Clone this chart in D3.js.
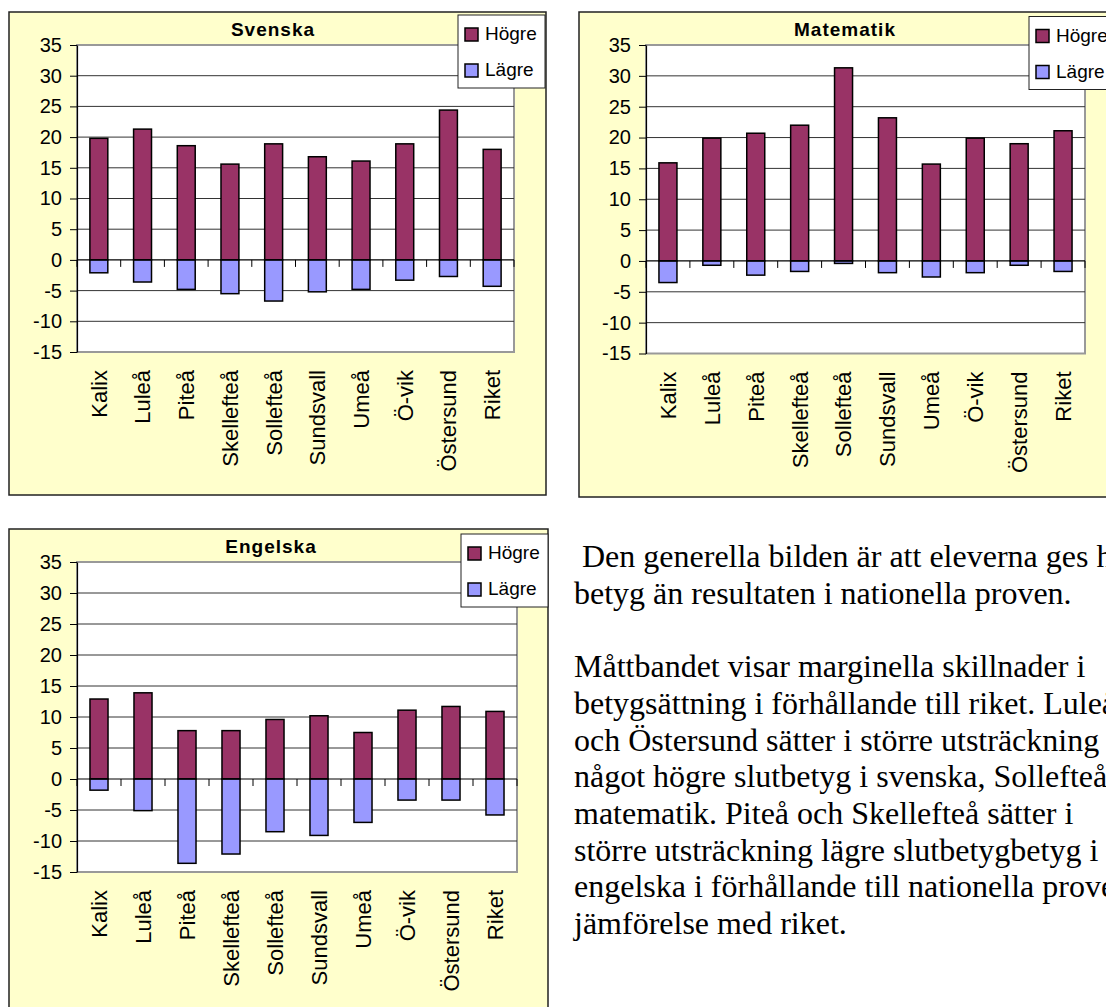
<!DOCTYPE html>
<html>
<head>
<meta charset="utf-8">
<script src="https://cdn.jsdelivr.net/npm/d3@7"></script>
<style>
  body { margin: 0; background: #fff; }
  svg { display: block; }
</style>
</head>
<body>
<div id="page"></div>
<script>
// Data
const categories = ["Kalix", "Luleå", "Piteå", "Skellefteå", "Sollefteå", "Sundsvall", "Umeå", "Ö-vik", "Östersund", "Riket"];
const seriesNames = ["Högre", "Lägre"];
const yTicks = [-15, -10, -5, 0, 5, 10, 15, 20, 25, 30, 35];

const svenskaHogre = [19.8, 21.3, 18.6, 15.6, 18.9, 16.8, 16.1, 18.9, 24.4, 18.0];
const svenskaLagre = [-2.1, -3.6, -4.8, -5.5, -6.7, -5.2, -4.8, -3.3, -2.7, -4.3];

const matteHogre = [15.9, 19.9, 20.7, 22.0, 31.3, 23.2, 15.7, 19.9, 19.0, 21.1];
const matteLagre = [-3.5, -0.7, -2.3, -1.7, -0.4, -1.9, -2.6, -1.9, -0.7, -1.7];

const engelskaHogre = [12.9, 13.9, 7.8, 7.8, 9.6, 10.2, 7.5, 11.1, 11.7, 10.9];
const engelskaLagre = [-1.8, -5.1, -13.6, -12.1, -8.5, -9.1, -7.0, -3.4, -3.4, -5.8];

const textLines = [
    " Den generella bilden är att eleverna ges högre",
    "betyg än resultaten i nationella proven.",
    "",
    "Måttbandet visar marginella skillnader i",
    "betygsättning i förhållande till riket. Luleå",
    "och Östersund sätter i större utsträckning",
    "något högre slutbetyg i svenska, Sollefteå i",
    "matematik. Piteå och Skellefteå sätter i",
    "större utsträckning lägre slutbetygbetyg i",
    "engelska i förhållande till nationella proven i",
    "jämförelse med riket."
];

const colors = { "Högre": "#993366", "Lägre": "#9999FF" };
const sans = "'Liberation Sans', Arial, sans-serif";

const svg = d3.select("#page")
    .append("svg")
    .attr("width", 1106)
    .attr("height", 1007);

function drawChart(cfg) {
    const g = svg.append("g")
        .attr("transform", `translate(${cfg.x},${cfg.y})`);

    // chart area
    g.append("rect")
        .attr("width", cfg.w)
        .attr("height", cfg.h)
        .attr("fill", "#FFFFCC")
        .attr("stroke", "#222")
        .attr("stroke-width", 1.5);

    const plot = g.append("g")
        .attr("transform", `translate(${cfg.plot.left},${cfg.plot.top})`);

    const x = d3.scaleBand()
        .domain(categories)
        .range([0, cfg.plot.width])
        .padding(0);

    const y = d3.scaleLinear()
        .domain([-15, 35])
        .range([cfg.plot.height, 0]);

    // plot area
    plot.append("rect")
        .attr("width", cfg.plot.width)
        .attr("height", cfg.plot.height)
        .attr("fill", "#fff")
        .attr("stroke", "#999")
        .attr("stroke-width", 2);

    // gridlines
    plot.selectAll(".grid")
        .data(yTicks.filter(d => d > -15 && d < 35 && d !== 0))
        .enter()
        .append("line")
        .attr("x1", 0)
        .attr("x2", cfg.plot.width)
        .attr("y1", d => y(d))
        .attr("y2", d => y(d))
        .attr("stroke", "#333")
        .attr("stroke-width", 1);

    // y axis
    const yAxis = plot.append("g")
        .call(d3.axisLeft(y).tickValues(yTicks).tickFormat(d => String(d))
            .tickSize(7).tickPadding(8).tickSizeOuter(0));
    yAxis.select(".domain").attr("stroke", "#000").attr("stroke-width", 1.2);
    yAxis.selectAll(".tick line").attr("stroke", "#000");
    yAxis.selectAll("text")
        .style("font-family", sans)
        .style("font-size", "20px")
        .style("fill", "#000");

    // bars
    const barW = x.bandwidth() * 0.41;
    const series = [cfg.hogre, cfg.lagre];
    series.forEach((vals, si) => {
        plot.selectAll(".bar" + si)
            .data(vals)
            .enter()
            .append("rect")
            .attr("x", (d, i) => x(categories[i]) + (x.bandwidth() - barW) / 2)
            .attr("y", d => y(Math.max(0, d)))
            .attr("width", barW)
            .attr("height", d => Math.abs(y(d) - y(0)))
            .attr("fill", colors[seriesNames[si]])
            .attr("stroke", "#000")
            .attr("stroke-width", 1.5);
    });

    // category axis at zero
    plot.append("line")
        .attr("x1", 0)
        .attr("x2", cfg.plot.width)
        .attr("y1", y(0))
        .attr("y2", y(0))
        .attr("stroke", "#000")
        .attr("stroke-width", 1.2);

    plot.selectAll(".xtick")
        .data(d3.range(categories.length + 1))
        .enter()
        .append("line")
        .attr("x1", i => i * x.step())
        .attr("x2", i => i * x.step())
        .attr("y1", y(0))
        .attr("y2", y(0) + 7)
        .attr("stroke", "#000")
        .attr("stroke-width", 1);

    // category labels
    plot.selectAll(".cat")
        .data(categories)
        .enter()
        .append("text")
        .attr("transform", d => `translate(${x(d) + x.bandwidth() / 2},${cfg.plot.height + 18}) rotate(-90)`)
        .attr("dy", "0.36em")
        .attr("text-anchor", "end")
        .style("font-family", sans)
        .style("font-size", "22px")
        .style("fill", "#000")
        .text(d => d);

    // title
    g.append("text")
        .attr("x", cfg.titleX)
        .attr("y", cfg.titleY)
        .attr("text-anchor", "middle")
        .style("font-family", sans)
        .style("font-size", "19px")
        .style("font-weight", "bold")
        .style("letter-spacing", "1px")
        .text(cfg.title);

    // legend
    const lg = g.append("g")
        .attr("transform", `translate(${cfg.legend.x},${cfg.legend.y})`);
    lg.append("rect")
        .attr("width", cfg.legend.w)
        .attr("height", 73)
        .attr("fill", "#fff")
        .attr("stroke", "#222")
        .attr("stroke-width", 1);
    const item = lg.selectAll(".item")
        .data(seriesNames)
        .enter()
        .append("g")
        .attr("transform", (d, i) => `translate(7,${13 + i * 36})`);
    item.append("rect")
        .attr("width", 13)
        .attr("height", 13)
        .attr("fill", d => colors[d])
        .attr("stroke", "#000")
        .attr("stroke-width", 1.5);
    item.append("text")
        .attr("x", 20)
        .attr("y", 12)
        .style("font-family", sans)
        .style("font-size", "19px")
        .text(d => d);
}

drawChart({
    title: "Svenska", x: 9, y: 12, w: 537, h: 483,
    plot: { left: 68, top: 33, width: 437, height: 307 },
    titleX: 264, titleY: 24,
    legend: { x: 449, y: 3, w: 87 },
    hogre: svenskaHogre, lagre: svenskaLagre
});

drawChart({
    title: "Matematik", x: 579, y: 12, w: 537, h: 485,
    plot: { left: 67, top: 33, width: 439, height: 308.5 },
    titleX: 266, titleY: 24,
    legend: { x: 450, y: 4.5, w: 90 },
    hogre: matteHogre, lagre: matteLagre
});

drawChart({
    title: "Engelska", x: 9, y: 529, w: 539, h: 483,
    plot: { left: 68, top: 33, width: 440, height: 310 },
    titleX: 262, titleY: 24,
    legend: { x: 452, y: 5, w: 87 },
    hogre: engelskaHogre, lagre: engelskaLagre
});

// paragraph text to the right of the last chart (runs past the page edge like the original)
const lineHeight = 36.7;
svg.append("g")
    .selectAll("text")
    .data(textLines.map((t, i) => ({ t, i })).filter(d => d.t !== ""))
    .enter()
    .append("text")
    .attr("xml:space", "preserve")
    .attr("x", 574)
    .attr("y", d => 567 + d.i * lineHeight)
    .style("font-family", "'Liberation Serif', 'Times New Roman', serif")
    .style("font-size", "32px")
    .style("fill", "#000")
    .text(d => d.t);
</script>
</body>
</html>
